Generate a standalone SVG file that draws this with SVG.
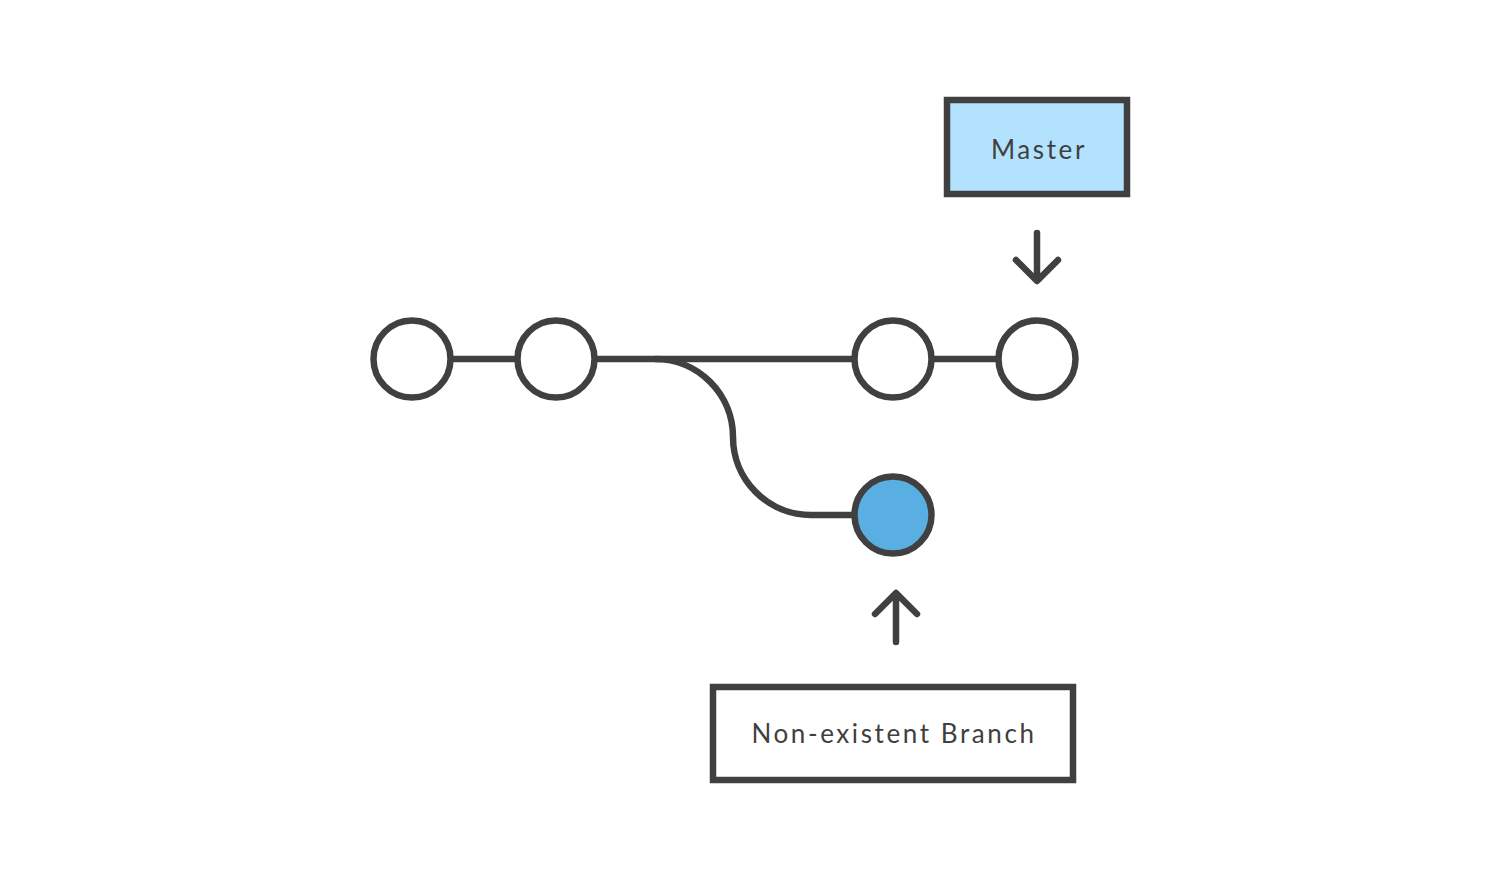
<svg xmlns="http://www.w3.org/2000/svg" width="1500" height="883" viewBox="0 0 1500 883">
<style>
.s{fill:none;stroke:#404040;stroke-width:6.5;stroke-linecap:round;stroke-linejoin:round}
.c{fill:#fff;stroke:#404040;stroke-width:6.5}
.b{stroke:#404040;stroke-width:6.5}
.t{font-family:Lato,"Open Sans",sans-serif;font-size:26px;fill:#404040;text-anchor:middle;letter-spacing:2.6px}
</style>
<rect width="1500" height="883" fill="#fff"/>
<g id="connectors">
<path class="s" style="stroke-linecap:butt" d="M453,359 H515"/>
<path class="s" style="stroke-linecap:butt" d="M597,359 H852"/>
<path class="s" style="stroke-linecap:butt" d="M934,359 H996"/>
<path class="s" style="stroke-linecap:butt" d="M655,359 A78,78 0 0 1 733,437 A78,78 0 0 0 811,515 H852"/>
<path class="s" d="M1037,233 V280 M1016,260 L1037,281 L1058,260"/>
<path class="s" d="M896,642 V594 M875,614 L896,593 L917,614"/>
</g>
<g id="c1"><circle class="c" cx="412" cy="359" r="38.5"/></g>
<g id="c2"><circle class="c" cx="556" cy="359" r="38.5"/></g>
<g id="c3"><circle class="c" cx="893" cy="359" r="38.5"/></g>
<g id="c4"><circle class="c" cx="1037" cy="359" r="38.5"/></g>
<g id="c5"><circle class="c" cx="893" cy="515" r="38.5" style="fill:#5aafe2"/></g>
<g id="master">
<rect class="b" x="947" y="100" width="180" height="94" fill="#b3e2ff"/>
<text class="t" x="1039" y="159">Master</text>
</g>
<g id="branch">
<rect class="b" x="713" y="687" width="360" height="93" fill="#fff"/>
<text class="t" x="894" y="743">Non-existent Branch</text>
</g>
</svg>
